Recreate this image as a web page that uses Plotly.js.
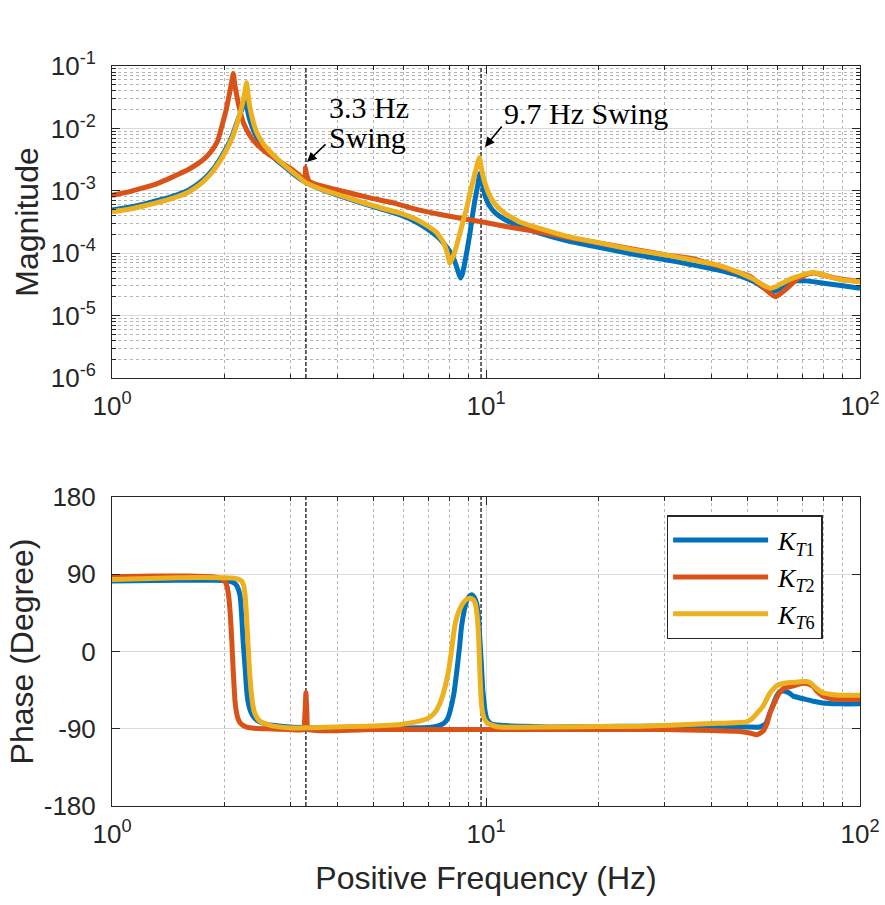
<!DOCTYPE html>
<html>
<head>
<meta charset="utf-8">
<script src="https://cdn.plot.ly/plotly-3.0.1.min.js"></script>
<style>
  html, body { margin: 0; padding: 0; background: #ffffff; }
  #chart { width: 885px; height: 905px; }
</style>
</head>
<body>
<div id="chart"></div>
<script>
// ---------------- data ----------------
const seriesNames = ['<i>K</i><sub><i>T</i>1</sub>', '<i>K</i><sub><i>T</i>2</sub>', '<i>K</i><sub><i>T</i>6</sub>'];
const seriesColors = ['#0072BD', '#D95319', '#EDB120'];

// Magnitude, K_T1
const freqMagT1 = [1, 1.1, 1.2, 1.3, 1.4, 1.5, 1.6, 1.7, 1.77, 1.86, 1.93, 2.0, 2.06, 2.11, 2.16, 2.2, 2.24, 2.28, 2.31, 2.34, 2.39, 2.44, 2.53, 2.64, 2.78, 2.93, 3.1, 3.28, 3.5, 3.83, 4.3, 4.8, 5.3, 5.9, 6.5, 7.0, 7.55, 8.0, 8.25, 8.45, 8.55, 8.65, 8.77, 8.92, 9.06, 9.2, 9.34, 9.5, 9.63, 9.75, 9.94, 10.2, 10.6, 11.2, 12.3, 13.9, 16.5, 20.2, 25, 30.5, 35.2, 41.5, 47.9, 52, 55.5, 58.5, 60.5, 62.5, 65, 68, 72, 80, 90, 100];
const magT1 = [4.9e-4, 5.4e-4, 6.0e-4, 6.8e-4, 7.6e-4, 8.7e-4, 1.02e-3, 1.29e-3, 1.58e-3, 2.19e-3, 3.0e-3, 4.3e-3, 6.0e-3, 8.5e-3, 1.26e-2, 1.7e-2, 2.24e-2, 2.7e-2, 1.78e-2, 1.32e-2, 9.3e-3, 7.2e-3, 5.2e-3, 4.0e-3, 2.95e-3, 2.29e-3, 1.74e-3, 1.38e-3, 1.15e-3, 9.3e-4, 7.4e-4, 6.0e-4, 5.0e-4, 4.1e-4, 3.16e-4, 2.4e-4, 1.66e-4, 1.07e-4, 7.4e-5, 4.8e-5, 4.0e-5, 4.7e-5, 6.9e-5, 1.2e-4, 2.1e-4, 4.0e-4, 7.1e-4, 1.2e-3, 1.9e-3, 1.41e-3, 8.3e-4, 5.8e-4, 4.4e-4, 3.5e-4, 2.7e-4, 2.1e-4, 1.58e-4, 1.23e-4, 9.5e-5, 7.8e-5, 6.6e-5, 5.4e-5, 4.3e-5, 3.5e-5, 2.75e-5, 2.4e-5, 2.63e-5, 3.0e-5, 3.4e-5, 3.6e-5, 3.6e-5, 3.3e-5, 3.0e-5, 2.75e-5];

// Magnitude, K_T2
const freqMagT2 = [1, 1.1, 1.2, 1.3, 1.4, 1.5, 1.6, 1.7, 1.77, 1.83, 1.88, 1.92, 1.98, 2.02, 2.06, 2.09, 2.11, 2.13, 2.16, 2.2, 2.25, 2.34, 2.45, 2.6, 2.81, 3.0, 3.15, 3.28, 3.29, 3.31, 3.36, 3.45, 3.83, 4.3, 4.8, 5.7, 6.65, 8.0, 9.8, 11.5, 13.9, 17, 20.2, 25, 30.5, 35.2, 41.5, 47.9, 51, 54, 56.5, 58.5, 59.5, 61, 63.9, 67.7, 71, 75, 78, 83, 90, 100];
const magT2 = [8.5e-4, 9.5e-4, 1.1e-3, 1.26e-3, 1.51e-3, 1.82e-3, 2.19e-3, 2.75e-3, 3.31e-3, 4.1e-3, 5.1e-3, 6.5e-3, 1.26e-2, 2.0e-2, 3.55e-2, 5.6e-2, 7.6e-2, 5.0e-2, 3.16e-2, 1.9e-2, 1.2e-2, 7.6e-3, 5.4e-3, 4.0e-3, 2.95e-3, 2.29e-3, 1.82e-3, 1.51e-3, 2.34e-3, 1.9e-3, 1.45e-3, 1.32e-3, 1.10e-3, 9.3e-4, 7.9e-4, 6.3e-4, 4.9e-4, 3.9e-4, 3.16e-4, 2.63e-4, 2.19e-4, 1.74e-4, 1.45e-4, 1.15e-4, 9.3e-5, 8.3e-5, 6.3e-5, 4.8e-5, 4.2e-5, 3.16e-5, 2.5e-5, 2.1e-5, 2.0e-5, 2.2e-5, 2.75e-5, 3.8e-5, 4.4e-5, 4.8e-5, 4.6e-5, 4.2e-5, 3.8e-5, 3.55e-5];

// Magnitude, K_T6
const freqMagT6 = [1, 1.1, 1.2, 1.3, 1.4, 1.5, 1.6, 1.7, 1.77, 1.86, 1.93, 2.0, 2.06, 2.11, 2.16, 2.2, 2.23, 2.26, 2.29, 2.31, 2.33, 2.36, 2.4, 2.44, 2.53, 2.64, 2.78, 2.93, 3.1, 3.28, 3.5, 3.83, 4.3, 4.8, 5.3, 5.9, 6.5, 7.0, 7.4, 7.7, 7.9, 8.0, 8.1, 8.25, 8.45, 8.7, 8.9, 9.06, 9.25, 9.44, 9.6, 9.75, 9.94, 10.2, 10.6, 11.2, 12.3, 13.9, 16.5, 20.2, 25, 30.5, 35.2, 41.5, 47.9, 52, 55, 57.5, 59.5, 62, 65, 68, 72, 75.3, 79, 84, 90, 100];
const magT6 = [4.6e-4, 5.0e-4, 5.6e-4, 6.3e-4, 7.1e-4, 8.1e-4, 9.5e-4, 1.2e-3, 1.48e-3, 2.04e-3, 2.8e-3, 4.0e-3, 5.6e-3, 7.9e-3, 1.2e-2, 1.74e-2, 2.4e-2, 3.55e-2, 5.4e-2, 3.55e-2, 2.4e-2, 1.66e-2, 1.12e-2, 8.5e-3, 5.8e-3, 4.3e-3, 3.16e-3, 2.4e-3, 1.82e-3, 1.38e-3, 1.15e-3, 9.5e-4, 7.6e-4, 6.2e-4, 5.2e-4, 4.4e-4, 3.5e-4, 2.7e-4, 2.1e-4, 1.48e-4, 9.5e-5, 6.9e-5, 7.9e-5, 1.05e-4, 1.74e-4, 3.4e-4, 5.6e-4, 9.1e-4, 1.5e-3, 2.4e-3, 3.4e-3, 2.1e-3, 1.32e-3, 8.7e-4, 6.0e-4, 4.4e-4, 3.16e-4, 2.5e-4, 1.86e-4, 1.45e-4, 1.12e-4, 9.3e-5, 7.9e-5, 6.5e-5, 4.8e-5, 3.8e-5, 3.1e-5, 2.75e-5, 2.9e-5, 3.3e-5, 3.8e-5, 4.2e-5, 4.7e-5, 4.9e-5, 4.6e-5, 4.1e-5, 3.7e-5, 3.5e-5];

// Phase (degree), K_T1
const freqPhT1 = [1, 1.5, 1.9, 2.05, 2.12, 2.16, 2.2, 2.22, 2.24, 2.27, 2.29, 2.31, 2.34, 2.38, 2.44, 2.55, 2.69, 2.99, 4, 6, 7.0, 7.4, 7.7, 7.9, 8.0, 8.2, 8.35, 8.5, 8.6, 8.75, 8.87, 9.0, 9.16, 9.3, 9.44, 9.55, 9.63, 9.72, 9.8, 9.88, 9.95, 10.06, 10.3, 10.9, 15, 20, 26, 40, 50, 54, 56, 57.5, 59.8, 61, 62.5, 64.5, 66.3, 72, 75, 79.5, 88.5, 100];
const phaseT1 = [82, 83, 83, 82, 80, 76, 65, 45, 14, -20, -44, -58, -68, -75, -80, -84, -86, -88, -89, -89, -88.5, -87, -84, -78, -71, -50, -24, 6, 29, 48, 58, 64, 66, 63, 56, 40, 14, -15, -44, -60, -70, -79, -84, -86, -88, -87.5, -87, -87, -88, -88, -84, -71, -52, -47, -46, -48, -52, -56, -58, -60, -61, -61];

// Phase (degree), K_T2
const freqPhT2 = [1, 1.3, 1.6, 1.85, 1.95, 2.0, 2.03, 2.05, 2.07, 2.09, 2.11, 2.13, 2.15, 2.18, 2.22, 2.29, 2.4, 2.6, 3.0, 3.25, 3.28, 3.3, 3.32, 3.35, 5, 10, 20, 30, 40, 47, 50.8, 53, 55, 56.5, 57.5, 59, 60.5, 62.5, 66.3, 70.3, 73, 75, 77, 79.5, 84, 88.5, 100];
const phaseT2 = [87, 88, 88, 87, 85, 82, 76, 65, 45, 14, -24, -55, -70, -80, -85, -88, -89.5, -90, -91, -91, -72, -48, -72, -91, -91, -91, -91, -91, -92, -93, -95, -97, -93, -83, -71, -60, -50, -43, -40, -37, -38, -41, -47, -52, -55, -56, -56];

// Phase (degree), K_T6
const freqPhT6 = [1, 1.5, 2.0, 2.12, 2.18, 2.22, 2.25, 2.27, 2.29, 2.31, 2.33, 2.36, 2.4, 2.45, 2.5, 2.6, 2.7, 3.0, 3.9, 4.8, 5.9, 6.5, 6.9, 7.1, 7.3, 7.5, 7.7, 7.93, 8.08, 8.2, 8.3, 8.43, 8.55, 8.7, 8.9, 9.06, 9.2, 9.34, 9.45, 9.55, 9.63, 9.73, 9.85, 10.06, 10.4, 10.9, 15, 20, 26, 40, 49.7, 51.5, 52.8, 55, 57.5, 59.8, 62.5, 66.3, 70, 72, 74, 76, 79.5, 84, 88.5, 100];
const phaseT6 = [84, 86, 86, 85.5, 84, 82, 77, 65, 40, 10, -20, -50, -70, -78, -82, -85, -87, -89, -88, -87, -85, -82, -79, -76, -71, -62, -48, -24, 0, 22, 35, 45, 51, 57, 61, 62, 61, 57, 45, 20, -24, -62, -76, -83, -86, -88, -88, -87.5, -87, -84, -82, -78, -73, -64, -48, -40, -37, -36, -35, -35, -37, -42, -48, -50, -51, -51];

// Swing-mode markers
const swingFreqs = [3.3, 9.7];
const swingLabels = ['3.3 Hz', 'Swing', '9.7 Hz Swing'];

// Axis ranges and tick labels
const freqRange = [1, 100];
const magRange = [1e-6, 1e-1];
const phaseRange = [-180, 180];
const freqTickVals = [1, 10, 100];
const freqTickText = ['10<sup>0</sup>', '10<sup>1</sup>', '10<sup>2</sup>'];
const magTickVals = [1e-6, 1e-5, 1e-4, 1e-3, 1e-2, 1e-1];
const magTickText = ['10<sup>-6</sup>', '10<sup>-5</sup>', '10<sup>-4</sup>', '10<sup>-3</sup>', '10<sup>-2</sup>', '10<sup>-1</sup>'];
const phaseTickVals = [-180, -90, 0, 90, 180];
const phaseTickText = ['-180', '-90', '0', '90', '180'];

// ---------------- build figure ----------------
function minorLogTicks(lo, hi) {
  const out = [];
  for (let d = lo; d < hi; d *= 10) {
    for (let k = 2; k <= 9; k++) out.push(k * d);
  }
  return out;
}
const freqMinor = minorLogTicks(freqRange[0], freqRange[1]);
const magMinor = minorLogTicks(magRange[0], magRange[1]);

const dashStyle = {color: '#000000', width: 1.2, dash: '4px,2px'};
const traces = [];
swingFreqs.forEach(f => {
  traces.push({x: [f, f], y: magRange, xaxis: 'x', yaxis: 'y', mode: 'lines',
    line: dashStyle, showlegend: false, hoverinfo: 'skip'});
  traces.push({x: [f, f], y: phaseRange, xaxis: 'x2', yaxis: 'y2', mode: 'lines',
    line: dashStyle, showlegend: false, hoverinfo: 'skip'});
});
const magData = [[freqMagT1, magT1], [freqMagT2, magT2], [freqMagT6, magT6]];
const phData = [[freqPhT1, phaseT1], [freqPhT2, phaseT2], [freqPhT6, phaseT6]];
for (let i = 0; i < 3; i++) {
  traces.push({x: magData[i][0], y: magData[i][1], xaxis: 'x', yaxis: 'y', mode: 'lines',
    name: seriesNames[i], legendgroup: 'g' + i, showlegend: true,
    line: {color: seriesColors[i], width: 5, shape: 'spline', smoothing: 0.4}});
}
for (let i = 0; i < 3; i++) {
  traces.push({x: phData[i][0], y: phData[i][1], xaxis: 'x2', yaxis: 'y2', mode: 'lines',
    name: seriesNames[i], legendgroup: 'g' + i, showlegend: false,
    line: {color: seriesColors[i], width: 5, shape: 'spline', smoothing: 0.4}});
}

const axisColor = '#262626';
const tickFont = {family: 'Liberation Sans, Arial, sans-serif', size: 26, color: axisColor};
const titleFont = {family: 'Liberation Sans, Arial, sans-serif', size: 32, color: axisColor};
const majorGrid = '#dadada';
const minorGrid = '#b5b5b5';

function logX(anchor, title) {
  const ax = {
    type: 'log', range: [Math.log10(freqRange[0]), Math.log10(freqRange[1])], anchor: anchor,
    tickmode: 'array', tickvals: freqTickVals, ticktext: freqTickText,
    ticks: 'inside', ticklen: 8, tickwidth: 1, tickcolor: axisColor,
    showline: true, linecolor: axisColor, linewidth: 1, mirror: 'ticks',
    showgrid: true, gridcolor: majorGrid, gridwidth: 1,
    minor: {tickmode: 'array', tickvals: freqMinor, ticks: 'inside', ticklen: 4, tickcolor: axisColor,
      showgrid: true, gridcolor: minorGrid, griddash: 'dot', gridwidth: 1},
    tickfont: tickFont, zeroline: false, ticklabelstandoff: 5
  };
  if (title) ax.title = {text: title, font: titleFont, standoff: 18};
  return ax;
}

const legendItemWidth = 100;
const layout = {
  width: 885, height: 905,
  margin: {l: 112, r: 25, t: 66, b: 99},
  paper_bgcolor: '#ffffff', plot_bgcolor: '#ffffff',
  showlegend: true,
  xaxis: logX('y', null),
  xaxis2: logX('y2', 'Positive Frequency (Hz)'),
  yaxis: {
    type: 'log', domain: [0.5784, 1], anchor: 'x',
    range: [Math.log10(magRange[0]), Math.log10(magRange[1])],
    tickmode: 'array', tickvals: magTickVals, ticktext: magTickText,
    ticks: 'inside', ticklen: 8, tickwidth: 1, tickcolor: axisColor,
    showline: true, linecolor: axisColor, linewidth: 1, mirror: 'ticks',
    showgrid: true, gridcolor: majorGrid, gridwidth: 1,
    minor: {tickmode: 'array', tickvals: magMinor, ticks: 'inside', ticklen: 4, tickcolor: axisColor,
      showgrid: true, gridcolor: minorGrid, griddash: 'dot', gridwidth: 1},
    tickfont: tickFont, zeroline: false, ticklabelstandoff: 10,
    title: {text: 'Magnitude', font: titleFont, standoff: 2}
  },
  yaxis2: {
    domain: [0, 0.4176], anchor: 'x2', range: phaseRange,
    tickmode: 'array', tickvals: phaseTickVals, ticktext: phaseTickText,
    ticks: 'inside', ticklen: 8, tickwidth: 1, tickcolor: axisColor,
    showline: true, linecolor: axisColor, linewidth: 1, mirror: 'ticks',
    showgrid: true, gridcolor: majorGrid, gridwidth: 1,
    tickfont: tickFont, zeroline: false, ticklabelstandoff: 10,
    title: {text: 'Phase (Degree)', font: titleFont, standoff: 0}
  },
  legend: {
    x: 0.95, y: 0.393, xanchor: 'right', yanchor: 'top',
    bgcolor: '#ffffff', bordercolor: axisColor, borderwidth: 1.5,
    font: {family: 'Liberation Serif, Times New Roman, serif', size: 26, color: '#000000'},
    tracegroupgap: 0, itemwidth: legendItemWidth
  },
  annotations: [
    {xref: 'x', yref: 'y', x: 0.5214, y: -2.538, ax: 20, ay: -19, text: '', showarrow: true,
      arrowhead: 2, arrowsize: 1.2, arrowwidth: 1.6, arrowcolor: '#000000'},
    {xref: 'x', yref: 'y', x: 0.9973, y: -2.298, ax: 18, ay: -22, text: '', showarrow: true,
      arrowhead: 2, arrowsize: 1.2, arrowwidth: 1.6, arrowcolor: '#000000'},
    {xref: 'x', yref: 'y', x: 0.5749, y: -1.673, text: swingLabels[0], showarrow: false,
      xanchor: 'left', yanchor: 'middle',
      font: {family: 'Liberation Serif, Times New Roman, serif', size: 30, color: '#000000'}},
    {xref: 'x', yref: 'y', x: 0.5749, y: -2.138, text: swingLabels[1], showarrow: false,
      xanchor: 'left', yanchor: 'middle',
      font: {family: 'Liberation Serif, Times New Roman, serif', size: 30, color: '#000000'}},
    {xref: 'x', yref: 'y', x: 1.0428, y: -1.769, text: swingLabels[2], showarrow: false,
      xanchor: 'left', yanchor: 'middle',
      font: {family: 'Liberation Serif, Times New Roman, serif', size: 30, color: '#000000'}}
  ]
};

Plotly.newPlot('chart', traces, layout, {staticPlot: true, displayModeBar: false}).then(gd => {
  // lengthen legend sample lines to fill the item symbol width
  gd.querySelectorAll('.legend .legendlines path').forEach(p => {
    p.setAttribute('d', 'M5,0h' + (legendItemWidth - 5));
  });
});
</script>
</body>
</html>
